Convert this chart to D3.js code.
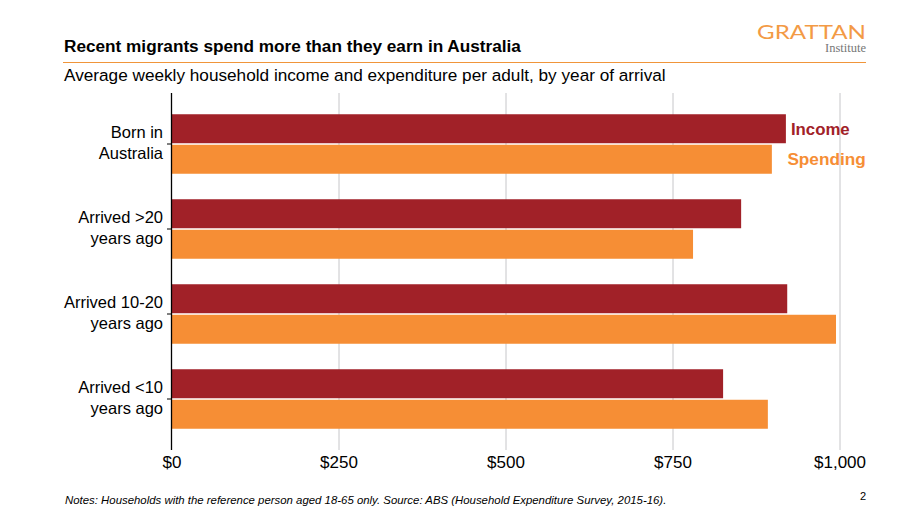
<!DOCTYPE html>
<html>
<head>
<meta charset="utf-8">
<script src="https://cdn.jsdelivr.net/npm/d3@7"></script>
<style>
  html, body { margin: 0; padding: 0; background: #fff; }
  svg { display: block; font-family: "Liberation Sans", Arial, Helvetica, sans-serif; }
</style>
</head>
<body>
<svg id="chart" width="916" height="514"></svg>
<script>
const categories = [["Born in", "Australia"], ["Arrived >20", "years ago"], ["Arrived 10-20", "years ago"], ["Arrived <10", "years ago"]];
const seriesNames = ["Income", "Spending"];
const income = [919, 852, 921, 825];
const spending = [898, 780, 994, 892];
const tickValues = [0, 250, 500, 750, 1000];
const tickLabels = ["$0", "$250", "$500", "$750", "$1,000"];

const colors = { Income: "#A12128", Spending: "#F68E35" };
const svg = d3.select("#chart");

const x = d3.scaleLinear().domain([0, 1000]).range([172, 840]);
const catKeys = categories.map(c => c.join(" "));
const y = d3.scaleBand().domain(catKeys).range([101.5, 441.5]).paddingInner(0.3).paddingOuter(0.15);
const ySub = d3.scaleBand().domain(seriesNames).range([0, y.bandwidth()]).paddingInner(0.05);

// Title
svg.append("text").attr("x", 64).attr("y", 52).attr("font-size", 17.2).attr("font-weight", "bold")
  .attr("fill", "#000").text("Recent migrants spend more than they earn in Australia");
svg.append("line").attr("x1", 63).attr("x2", 866).attr("y1", 62.5).attr("y2", 62.5)
  .attr("stroke", "#F0953A").attr("stroke-width", 1.2);
svg.append("text").attr("x", 64).attr("y", 81).attr("font-size", 17.2)
  .attr("fill", "#000").text("Average weekly household income and expenditure per adult, by year of arrival");

// Logo
svg.append("text").attr("x", 866).attr("y", 38.5).attr("text-anchor", "end").attr("font-size", 20)
  .attr("font-family", "Lato, 'Open Sans', sans-serif").attr("font-weight", 400)
  .attr("fill", "#F39A45").attr("textLength", 109).attr("lengthAdjust", "spacingAndGlyphs").text("GRATTAN");
svg.append("text").attr("x", 866).attr("y", 52).attr("text-anchor", "end").attr("font-size", 12.5)
  .attr("font-family", "'Liberation Serif', 'DejaVu Serif', serif").attr("fill", "#777").text("Institute");

// Gridlines
svg.append("g").selectAll("line").data(tickValues.slice(1)).join("line")
  .attr("x1", d => x(d)).attr("x2", d => x(d)).attr("y1", 93).attr("y2", 450)
  .attr("stroke", "#C6C6C9").attr("stroke-width", 1);

// Bars
const rows = catKeys.map((k, i) => ({ key: k, Income: income[i], Spending: spending[i] }));
const groups = svg.append("g").selectAll("g").data(rows).join("g")
  .attr("transform", d => `translate(0,${y(d.key)})`);
groups.selectAll("rect").data(d => seriesNames.map(s => ({ s, v: d[s] }))).join("rect")
  .attr("x", x(0)).attr("y", d => ySub(d.s)).attr("height", ySub.bandwidth())
  .attr("width", d => x(d.v) - x(0)).attr("fill", d => colors[d.s]);

// Y axis line + ticks
svg.append("line").attr("x1", 171.5).attr("x2", 171.5).attr("y1", 93).attr("y2", 450)
  .attr("stroke", "#000").attr("stroke-width", 1.3);
svg.append("g").selectAll("line").data(catKeys).join("line")
  .attr("x1", 167).attr("x2", 171.5)
  .attr("y1", d => y(d) + y.bandwidth() / 2).attr("y2", d => y(d) + y.bandwidth() / 2)
  .attr("stroke", "#000").attr("stroke-width", 1);

// Category labels
const lab = svg.append("g").selectAll("text").data(categories).join("text")
  .attr("text-anchor", "end").attr("font-size", 16.5).attr("fill", "#000");
lab.each(function (d, i) {
  const cy = y(catKeys[i]) + y.bandwidth() / 2;
  d3.select(this).selectAll("tspan").data(d).join("tspan")
    .attr("x", 163).attr("y", (t, j) => cy - 6 + j * 20.5).text(t => t);
});

// X tick labels
svg.append("g").selectAll("text").data(tickValues).join("text")
  .attr("x", d => x(d)).attr("y", 468).attr("text-anchor", "middle").attr("font-size", 17)
  .attr("fill", "#000").text((d, i) => tickLabels[i]);

// Series labels
const y0 = y(catKeys[0]);
svg.append("text").attr("x", x(income[0]) + 5).attr("y", y0 + ySub("Income") + ySub.bandwidth() / 2 + 6)
  .attr("font-size", 16.8).attr("font-weight", "bold").attr("fill", colors.Income).text("Income");
svg.append("text").attr("x", x(income[0]) + 1.5).attr("y", y0 + ySub("Spending") + ySub.bandwidth() / 2 + 6)
  .attr("font-size", 17.2).attr("font-weight", "bold").attr("fill", colors.Spending).text("Spending");

// Footer
svg.append("text").attr("x", 65).attr("y", 504).attr("font-size", 11.4).attr("font-style", "italic")
  .attr("fill", "#000").text("Notes: Households with the reference person aged 18-65 only. Source: ABS (Household Expenditure Survey, 2015-16).");
svg.append("text").attr("x", 863).attr("y", 500).attr("text-anchor", "middle").attr("font-size", 11)
  .attr("fill", "#000").text("2");
</script>
</body>
</html>
